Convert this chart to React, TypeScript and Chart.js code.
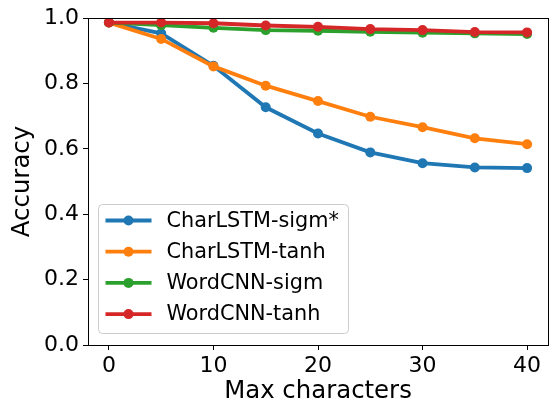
import React, { useEffect, useRef } from "react";
import { Chart, registerables } from "chart.js";

Chart.register(...registerables);

const maxChars = [0, 5, 10, 15, 20, 25, 30, 35, 40];
const charLstmSigm = [0.986, 0.953, 0.854, 0.727, 0.647, 0.589, 0.556, 0.543, 0.541];
const charLstmTanh = [0.986, 0.936, 0.852, 0.793, 0.746, 0.698, 0.666, 0.632, 0.614];
const wordCnnSigm = [0.986, 0.978, 0.970, 0.963, 0.961, 0.958, 0.955, 0.953, 0.951];
const wordCnnTanh = [0.986, 0.986, 0.984, 0.977, 0.973, 0.966, 0.963, 0.957, 0.956];

const seriesLabels = ["CharLSTM-sigm*", "CharLSTM-tanh", "WordCNN-sigm", "WordCNN-tanh"];
const seriesColors = ["#1f77b4", "#ff7f0e", "#2ca02c", "#d62728"];
const xTicks = [0, 10, 20, 30, 40];
const yTicks = [0, 0.2, 0.4, 0.6, 0.8, 1.0];

const FONT = "'DejaVu Sans', sans-serif";

export default function App() {
  const ref = useRef<HTMLCanvasElement | null>(null);

  useEffect(() => {
    document.body.style.margin = "0";
    const canvas = ref.current;
    if (!canvas) return;
    const allSeries = [charLstmSigm, charLstmTanh, wordCnnSigm, wordCnnTanh];

    const frameAndLegend = {
      id: "frameAndLegend",
      afterDraw(chart: any) {
        const { ctx, chartArea } = chart;
        ctx.save();
        // full box
        ctx.strokeStyle = "#000";
        ctx.lineWidth = 1;
        ctx.strokeRect(
          Math.round(chartArea.left) + 0.5,
          Math.round(chartArea.top) + 0.5,
          Math.round(chartArea.right - chartArea.left),
          Math.round(chartArea.bottom - chartArea.top)
        );
        // legend
        const bx = Math.round(chartArea.left) + 10.5;
        const by = Math.round(chartArea.bottom) - 140.5;
        const bw = 250;
        const bh = 129;
        const r = 4;
        ctx.beginPath();
        ctx.moveTo(bx + r, by);
        ctx.lineTo(bx + bw - r, by);
        ctx.arcTo(bx + bw, by, bx + bw, by + r, r);
        ctx.lineTo(bx + bw, by + bh - r);
        ctx.arcTo(bx + bw, by + bh, bx + bw - r, by + bh, r);
        ctx.lineTo(bx + r, by + bh);
        ctx.arcTo(bx, by + bh, bx, by + bh - r, r);
        ctx.lineTo(bx, by + r);
        ctx.arcTo(bx, by, bx + r, by, r);
        ctx.closePath();
        ctx.fillStyle = "rgba(255,255,255,0.8)";
        ctx.fill();
        ctx.strokeStyle = "#cccccc";
        ctx.stroke();
        ctx.font = `20.8px ${FONT}`;
        ctx.textBaseline = "middle";
        ctx.textAlign = "left";
        seriesLabels.forEach((label, i) => {
          const y = by + 16 + i * 31.2;
          ctx.strokeStyle = seriesColors[i];
          ctx.lineWidth = 3.8;
          ctx.beginPath();
          ctx.moveTo(bx + 7, y);
          ctx.lineTo(bx + 53, y);
          ctx.stroke();
          ctx.fillStyle = seriesColors[i];
          ctx.beginPath();
          ctx.arc(bx + 30, y, 5, 0, Math.PI * 2);
          ctx.fill();
          ctx.fillStyle = "#000";
          ctx.fillText(label, bx + 68, y + 1);
        });
        ctx.restore();
      },
    };

    const chart = new Chart(canvas, {
      type: "line",
      data: {
        datasets: allSeries.map((s, i) => ({
          label: seriesLabels[i],
          data: s.map((v, j) => ({ x: maxChars[j], y: v })),
          borderColor: seriesColors[i],
          backgroundColor: seriesColors[i],
          borderWidth: 3.8,
          pointRadius: 5,
          pointBorderWidth: 0,
          pointBackgroundColor: seriesColors[i],
          tension: 0,
          order: 4 - i,
        })),
      },
      options: {
        responsive: false,
        animation: false,
        layout: { padding: { top: 18, right: 3, left: 0, bottom: 0 } },
        plugins: {
          legend: { display: false },
          tooltip: { enabled: false },
        },
        scales: {
          x: {
            type: "linear",
            min: -2,
            max: 42,
            afterBuildTicks: (scale: any) => {
              scale.ticks = xTicks.map((v) => ({ value: v }));
            },
            afterFit: (scale: any) => {
              scale.height = 59;
            },
            ticks: {
              font: { family: FONT, size: 22 },
              color: "#000",
              padding: 3,
              maxRotation: 0,
              autoSkip: false,
            },
            grid: { drawOnChartArea: false, drawTicks: true, tickLength: 5, color: "#000" },
            border: { display: true, color: "#000", width: 1 },
            title: {
              display: true,
              text: "Max characters",
              font: { family: FONT, size: 24.4, lineHeight: 1.0 },
              color: "#000",
              padding: { top: 0, bottom: 0 },
            },
          },
          y: {
            type: "linear",
            min: 0,
            max: 1,
            afterBuildTicks: (scale: any) => {
              scale.ticks = yTicks.map((v) => ({ value: v }));
            },
            afterFit: (scale: any) => {
              scale.width = 88;
            },
            ticks: {
              font: { family: FONT, size: 22 },
              color: "#000",
              padding: 4,
              autoSkip: false,
              callback: (v: any) => Number(v).toFixed(1),
            },
            grid: { drawOnChartArea: false, drawTicks: true, tickLength: 5, color: "#000" },
            border: { display: true, color: "#000", width: 1 },
            title: {
              display: true,
              text: "Accuracy",
              font: { family: FONT, size: 24.4, lineHeight: 1.2 },
              color: "#000",
              padding: { top: 8, bottom: 0 },
            },
          },
        },
      },
      plugins: [frameAndLegend],
    });

    return () => chart.destroy();
  }, []);

  return (
    <div style={{ width: 553, height: 404 }}>
      <canvas ref={ref} width={553} height={404} />
    </div>
  );
}
